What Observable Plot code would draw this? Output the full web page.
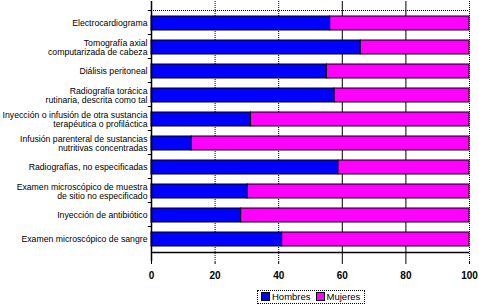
<!DOCTYPE html>
<html>
<head>
<meta charset="utf-8">
<script src="https://cdn.jsdelivr.net/npm/d3@7"></script>
<script src="https://cdn.jsdelivr.net/npm/@observablehq/plot@0.6"></script>
<style>
  body { margin: 0; background: #fff; font-family: Arial, "Liberation Sans", sans-serif; }
  #chart { position: relative; width: 479px; height: 305px; }
  #legend { position: absolute; left: 257px; top: 290px; border: 1px dotted #000; padding: 0px 4px 0px 3px;
    font-size: 9.5px; line-height: 12px; display: flex; align-items: center; gap: 5px; background: #fff; }
  #legend span.sw { display: inline-block; width: 7px; height: 7px; border: 1px solid #000; margin-right: 2px; vertical-align: -1px; }
</style>
</head>
<body>
<div id="chart"></div>
<script>
const categories = [
  "Electrocardiograma",
  "Tomografía axial\ncomputarizada de cabeza",
  "Diálisis peritoneal",
  "Radiografía torácica\nrutinaria, descrita como tal",
  "Inyección o infusión de otra sustancia\nterapéutica o profiláctica",
  "Infusión parenteral de sustancias\nnutritivas concentradas",
  "Radiografías, no especificadas",
  "Examen microscópico de muestra\nde sitio no especificado",
  "Inyección de antibiótico",
  "Examen microscópico de sangre"
];
const hombres = [56.2, 65.8, 55.2, 57.6, 31.3, 12.7, 58.8, 30.3, 28.2, 41.1];
const mujeres = hombres.map(h => +(100 - h).toFixed(1));
const seriesNames = ["Hombres", "Mujeres"];
const seriesColors = ["#0000ff", "#ff00ff"];
const xTicks = [0, 20, 40, 60, 80, 100];

const data = [];
categories.forEach((c, i) => {
  data.push({cat: c, serie: "Hombres", value: hombres[i]});
  data.push({cat: c, serie: "Mujeres", value: mujeres[i]});
});

const plot = Plot.plot({
  width: 479,
  height: 288,
  marginLeft: 151,
  marginRight: 10,
  marginTop: 1,
  marginBottom: 27,
  style: {fontFamily: "Arial, 'Liberation Sans', sans-serif", background: "#fff"},
  x: {domain: [0, 100], ticks: xTicks, label: null},
  y: {domain: categories, padding: 0.435, label: null, axis: null},
  color: {domain: seriesNames, range: seriesColors},
  marks: [
    Plot.ruleX([20, 40], {stroke: "#000", strokeDasharray: "1,1", strokeWidth: 1}),
    Plot.ruleX([60, 80], {stroke: "#000", strokeWidth: 1}),
    Plot.ruleX([100], {stroke: "#000", strokeDasharray: "1,1", strokeWidth: 1}),
    Plot.ruleY([0], {y: () => categories[0], x1: 0, x2: 100, dy: -13, stroke: "#000", strokeDasharray: "1,1"}),
    Plot.barX(data, Plot.stackX({y: "cat", x: "value", fill: "serie", stroke: "#000", strokeWidth: 1, order: seriesNames})),
    Plot.ruleX([0], {stroke: "#000", strokeWidth: 1.5}),
    Plot.ruleY(categories, {y: d => d, x1: -1, x2: 0, dy: -13, stroke: "#000"}),
    Plot.axisX({ticks: xTicks, tickSize: 3, tickPadding: 7, fontSize: 10, fontWeight: "bold", tickFormat: d => d}),
    Plot.ruleY([0], {y: () => categories[categories.length - 1], x1: 0, x2: 100, dy: 13, stroke: "#000", strokeWidth: 1.5}),
    Plot.text(categories, {x: 0, y: d => d, text: d => d, textAnchor: "end", dx: -4, fontSize: 8.7, lineHeight: 1.05, fill: "#000"})
  ]
});
document.getElementById("chart").appendChild(plot);

const legend = document.createElement("div");
legend.id = "legend";
seriesNames.forEach((n, i) => {
  const item = document.createElement("div");
  item.innerHTML = `<span class="sw" style="background:${seriesColors[i]}"></span>${n}`;
  legend.appendChild(item);
});
document.getElementById("chart").appendChild(legend);
</script>
</body>
</html>
